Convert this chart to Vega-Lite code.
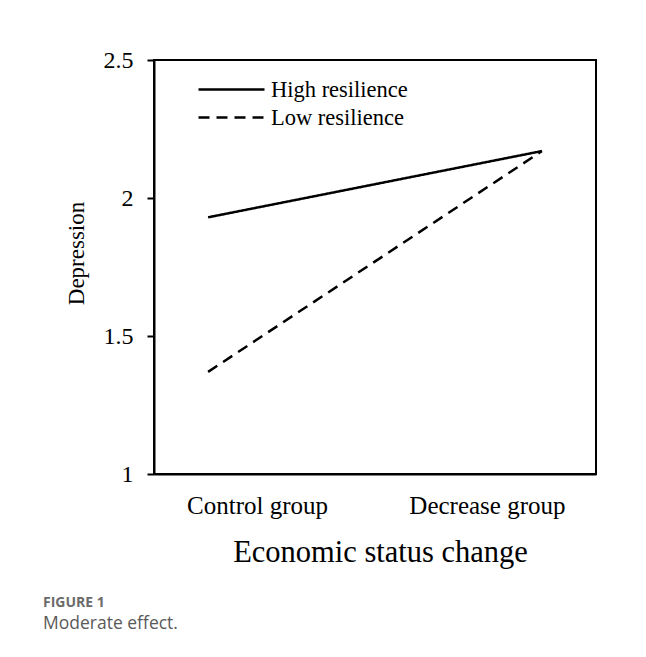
{
  "$schema": "https://vega.github.io/schema/vega-lite/v6.json",
  "width": 442,
  "height": 414,
  "autosize": {"type": "none"},
  "padding": {"left": 154, "top": 60, "right": 50, "bottom": 183},
  "background": "white",
  "config": {
    "view": {"stroke": "black", "strokeWidth": 2},
    "font": "Liberation Serif"
  },
  "title": {
    "text": "FIGURE 1",
    "subtitle": "Moderate effect.",
    "orient": "bottom",
    "anchor": "start",
    "frame": "group",
    "dx": -111,
    "offset": 28,
    "font": "Open Sans",
    "fontSize": 14,
    "fontWeight": "bold",
    "color": "#6b6b6b",
    "subtitleFont": "Open Sans",
    "subtitleFontSize": 17.5,
    "subtitleColor": "#5a5a5a",
    "subtitlePadding": 5
  },
  "data": {
    "values": [
      {"group": "Control group", "resilience": "High resilience", "depression": 1.93},
      {"group": "Decrease group", "resilience": "High resilience", "depression": 2.17},
      {"group": "Control group", "resilience": "Low resilience", "depression": 1.37},
      {"group": "Decrease group", "resilience": "Low resilience", "depression": 2.17}
    ]
  },
  "mark": {"type": "line", "color": "black", "strokeWidth": 2.5},
  "encoding": {
    "x": {
      "field": "group",
      "type": "nominal",
      "sort": ["Control group", "Decrease group"],
      "scale": {"type": "point", "padding": 0.162},
      "axis": {
        "title": "Economic status change",
        "titleFont": "Liberation Serif",
        "titleFontSize": 30.5,
        "titleFontWeight": "normal",
        "titleColor": "black",
        "titleX": 226,
        "titleY": 87,
        "titleBaseline": "alphabetic",
        "labelAngle": 0,
        "labelFont": "Liberation Serif",
        "labelFontSize": 25,
        "labelColor": "black",
        "labelPadding": 19,
        "labelOffset": {"condition": {"test": "datum.value == 'Control group'", "value": 49}, "value": -55},
        "ticks": false,
        "domainColor": "black",
        "domainWidth": 2,
        "grid": false
      }
    },
    "y": {
      "field": "depression",
      "type": "quantitative",
      "scale": {"domain": [1, 2.5], "nice": false, "zero": false},
      "axis": {
        "title": "Depression",
        "titleFont": "Liberation Serif",
        "titleFontSize": 23,
        "titleFontWeight": "normal",
        "titleColor": "black",
        "titleX": -66,
        "titleY": 193,
        "titleBaseline": "bottom",
        "values": [1, 1.5, 2, 2.5],
        "format": "~g",
        "labelFont": "Liberation Serif",
        "labelFontSize": 24,
        "labelColor": "black",
        "labelPadding": 14,
        "tickSize": 7,
        "tickColor": "black",
        "tickWidth": 2,
        "domainColor": "black",
        "domainWidth": 2,
        "grid": false
      }
    },
    "strokeDash": {
      "field": "resilience",
      "type": "nominal",
      "scale": {"domain": ["High resilience", "Low resilience"], "range": [[1, 0], [11, 7]]},
      "legend": {
        "title": null,
        "orient": "none",
        "legendX": 65,
        "legendY": 17,
        "padding": 0,
        "symbolType": "M-3,0H3",
        "symbolSize": 484,
        "symbolStrokeColor": "black",
        "symbolStrokeWidth": 2.5,
        "symbolFillColor": "transparent",
        "labelFont": "Liberation Serif",
        "labelFontSize": 22.5,
        "labelColor": "black",
        "labelOffset": 27,
        "rowPadding": 4
      }
    }
  }
}
